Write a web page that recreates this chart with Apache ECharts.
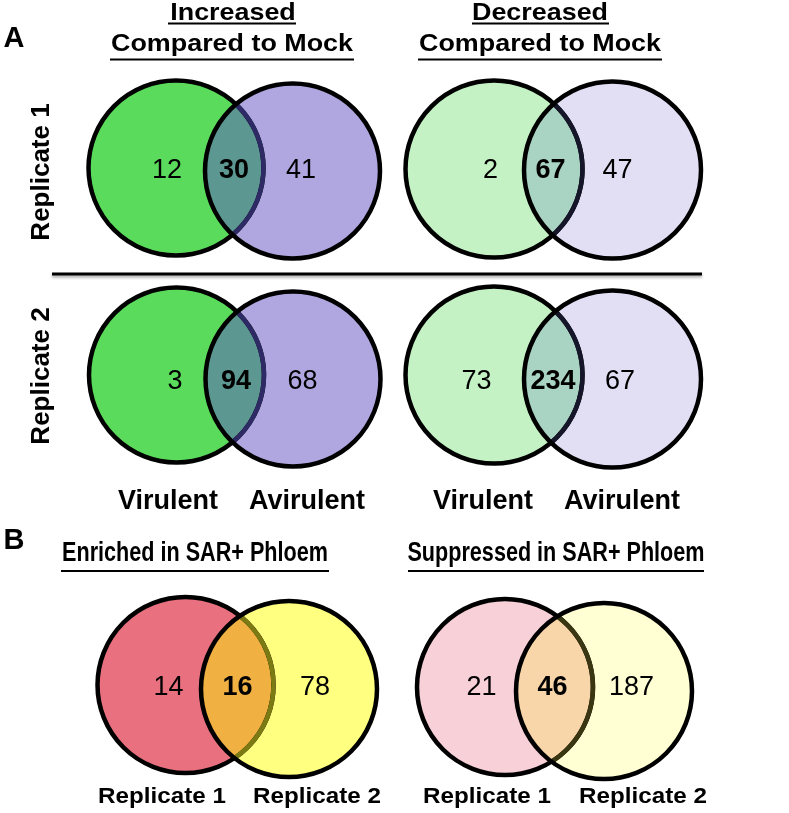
<!DOCTYPE html>
<html><head><meta charset="utf-8">
<script src="https://cdn.jsdelivr.net/npm/echarts@6/dist/echarts.min.js"></script>
<style>html,body{margin:0;padding:0;background:#fff}#chart{width:789px;height:813px}</style>
</head><body><div id="chart"></div>
<script>
// ---------- DATA ----------
const vennPanels = ['Increased · Replicate 1', 'Decreased · Replicate 1', 'Increased · Replicate 2', 'Decreased · Replicate 2', 'Enriched in SAR+ Phloem', 'Suppressed in SAR+ Phloem'];
const leftOnlyCounts = [12, 2, 3, 73, 14, 21];
const sharedCounts = [30, 67, 94, 234, 16, 46];
const rightOnlyCounts = [41, 47, 68, 67, 78, 187];
const setLabelsA = ['Virulent', 'Avirulent'];
const setLabelsB = ['Replicate 1', 'Replicate 2'];
const rowLabelsA = ['Replicate 1', 'Replicate 2'];
const columnTitlesA = [['Increased', 'Compared to Mock'], ['Decreased', 'Compared to Mock']];
const columnTitlesB = ['Enriched in SAR+ Phloem', 'Suppressed in SAR+ Phloem'];
const panelLetters = ['A', 'B'];

// ---------- LAYOUT / STYLE ----------
const vennLayout = [
  {c1: [176, 168], c2: [292.5, 171], r: 87.5, nx: [167, 234, 301], ny: 170.5, pal: 0},
  {c1: [494, 169], c2: [612.5, 170], r: 88.5, nx: [490.5, 550.5, 617.5], ny: 170.5, pal: 1},
  {c1: [176.5, 375], c2: [293, 379], r: 87.5, nx: [175, 236, 302.5], ny: 382, pal: 0},
  {c1: [494, 375], c2: [612.5, 379], r: 88.5, nx: [476.5, 553, 620], ny: 382, pal: 1},
  {c1: [185.5, 685], c2: [289, 689], r: 88, nx: [168.5, 237.5, 315], ny: 687.5, pal: 2},
  {c1: [505, 687], c2: [604, 691], r: 88, nx: [481.5, 552.5, 631.5], ny: 687.5, pal: 3}
];
const palettes = [
  {left: '#5BDB5B', right: '#B0A6E0', lens: '#5C9792', edge: '#2E2A66'},
  {left: '#C4F2C4', right: '#E2DFF5', lens: '#A9D3C3', edge: '#16162A'},
  {left: '#E8707F', right: '#FFFF80', lens: '#F0B042', edge: '#7C7A12'},
  {left: '#F8D0D8', right: '#FFFFD3', lens: '#F8D6AA', edge: '#3A3612'}
];
const FONT = '"Liberation Sans", Arial, sans-serif';
const STROKE = 4.5;

function renderVenn(params, api) {
  const i = api.value(0);
  const L = vennLayout[i], P = palettes[L.pal];
  const a = api.coord(L.c1), b = api.coord(L.c2);
  const r = Math.abs(api.size([L.r, L.r])[0]);
  const dx = b[0] - a[0], dy = b[1] - a[1];
  const d = Math.sqrt(dx * dx + dy * dy);
  const t = d / 2;
  const h = Math.sqrt(r * r - t * t);
  const bx = a[0] + dx / 2, by = a[1] + dy / 2;
  const px = -dy / d, py = dx / d;
  const top = [bx - h * px, by - h * py];
  const bot = [bx + h * px, by + h * py];
  const f = v => v.toFixed(2);
  const lens = `M${f(top[0])} ${f(top[1])} A${f(r)} ${f(r)} 0 0 1 ${f(bot[0])} ${f(bot[1])} A${f(r)} ${f(r)} 0 0 1 ${f(top[0])} ${f(top[1])} Z`;
  const edge = `M${f(top[0])} ${f(top[1])} A${f(r)} ${f(r)} 0 0 1 ${f(bot[0])} ${f(bot[1])}`;
  const ny = api.coord([0, L.ny])[1];
  const numText = (val, x, bold) => ({
    type: 'text', x: api.coord([x, 0])[0], y: ny,
    style: {text: String(val), font: `${bold ? 'bold ' : ''}27px ${FONT}`, fill: '#000',
      align: 'center', verticalAlign: 'middle', textAlign: 'center', textVerticalAlign: 'middle'}
  });
  return {
    type: 'group',
    children: [
      {type: 'circle', shape: {cx: a[0], cy: a[1], r: r}, style: {fill: P.left, stroke: null}},
      {type: 'circle', shape: {cx: b[0], cy: b[1], r: r}, style: {fill: P.right, stroke: null}},
      {type: 'path', shape: {pathData: lens}, style: {fill: P.lens, stroke: null}},
      {type: 'circle', shape: {cx: a[0], cy: a[1], r: r}, style: {fill: null, stroke: '#000', lineWidth: STROKE}},
      {type: 'path', shape: {pathData: edge}, style: {fill: null, stroke: P.edge, lineWidth: STROKE}},
      {type: 'circle', shape: {cx: b[0], cy: b[1], r: r}, style: {fill: null, stroke: '#000', lineWidth: STROKE}},
      numText(api.value(1), L.nx[0], false),
      numText(api.value(2), L.nx[1], true),
      numText(api.value(3), L.nx[2], false)
    ]
  };
}

function txt(text, x, y, size, extra) {
  extra = extra || {};
  return Object.assign({
    type: 'text', x: x, y: y, silent: true,
    style: {text: text, font: `${extra.weight || 'bold'} ${size}px ${FONT}`, fill: '#000',
      align: 'center', verticalAlign: 'middle', textAlign: 'center', textVerticalAlign: 'middle'}
  }, extra.el || {});
}
function uline(x1, x2, y, w) {
  return {type: 'line', silent: true, shape: {x1: x1, y1: y, x2: x2, y2: y}, style: {stroke: '#000', lineWidth: w || 2}};
}

const graphics = [
  txt(panelLetters[0], 14, 39, 29),
  txt(panelLetters[1], 14, 541, 29),
  txt(columnTitlesA[0][0], 233, 13.5, 24, {el: {scaleX: 1.12}}),
  txt(columnTitlesA[0][1], 232, 44.5, 24, {el: {scaleX: 1.12}}),
  uline(168, 296, 23.5), uline(110, 354, 59.5),
  txt(columnTitlesA[1][0], 540, 13.5, 24, {el: {scaleX: 1.12}}),
  txt(columnTitlesA[1][1], 540, 44.5, 24, {el: {scaleX: 1.12}}),
  uline(472, 609, 23.5), uline(418, 662, 59.5),
  txt(rowLabelsA[0], 42, 172, 26, {el: {rotation: Math.PI / 2}}),
  txt(rowLabelsA[1], 42, 376, 26, {el: {rotation: Math.PI / 2}}),
  {type: 'line', silent: true, shape: {x1: 52, y1: 274, x2: 702, y2: 274},
    style: {stroke: '#000', lineWidth: 3, shadowColor: 'rgba(0,0,0,0.35)', shadowBlur: 3, shadowOffsetY: 2}},
  txt(setLabelsA[0], 168, 502, 27), txt(setLabelsA[1], 307, 502, 27),
  txt(setLabelsA[0], 483, 502, 27), txt(setLabelsA[1], 622, 502, 27),
  txt(columnTitlesB[0], 195, 554, 27, {el: {scaleX: 0.8}}),
  txt(columnTitlesB[1], 556, 554, 27, {el: {scaleX: 0.8}}),
  uline(61, 329, 571), uline(408, 704, 571),
  txt(setLabelsB[0], 162, 797, 22, {el: {scaleX: 1.1}}), txt(setLabelsB[1], 317, 797, 22, {el: {scaleX: 1.1}}),
  txt(setLabelsB[0], 487, 797, 22, {el: {scaleX: 1.1}}), txt(setLabelsB[1], 643, 797, 22, {el: {scaleX: 1.1}})
];

const chart = echarts.init(document.getElementById('chart'), null, {renderer: 'canvas'});
chart.setOption({
  animation: false,
  backgroundColor: '#fff',
  grid: {left: 0, right: 0, top: 0, bottom: 0},
  xAxis: {type: 'value', min: 0, max: 789, show: false},
  yAxis: {type: 'value', min: 0, max: 813, inverse: true, show: false},
  graphic: graphics,
  series: [{
    type: 'custom',
    clip: false,
    renderItem: renderVenn,
    encode: {x: 0, y: 0},
    data: vennPanels.map((name, i) => ({name: name, value: [i, leftOnlyCounts[i], sharedCounts[i], rightOnlyCounts[i]]}))
  }]
});
</script></body></html>
